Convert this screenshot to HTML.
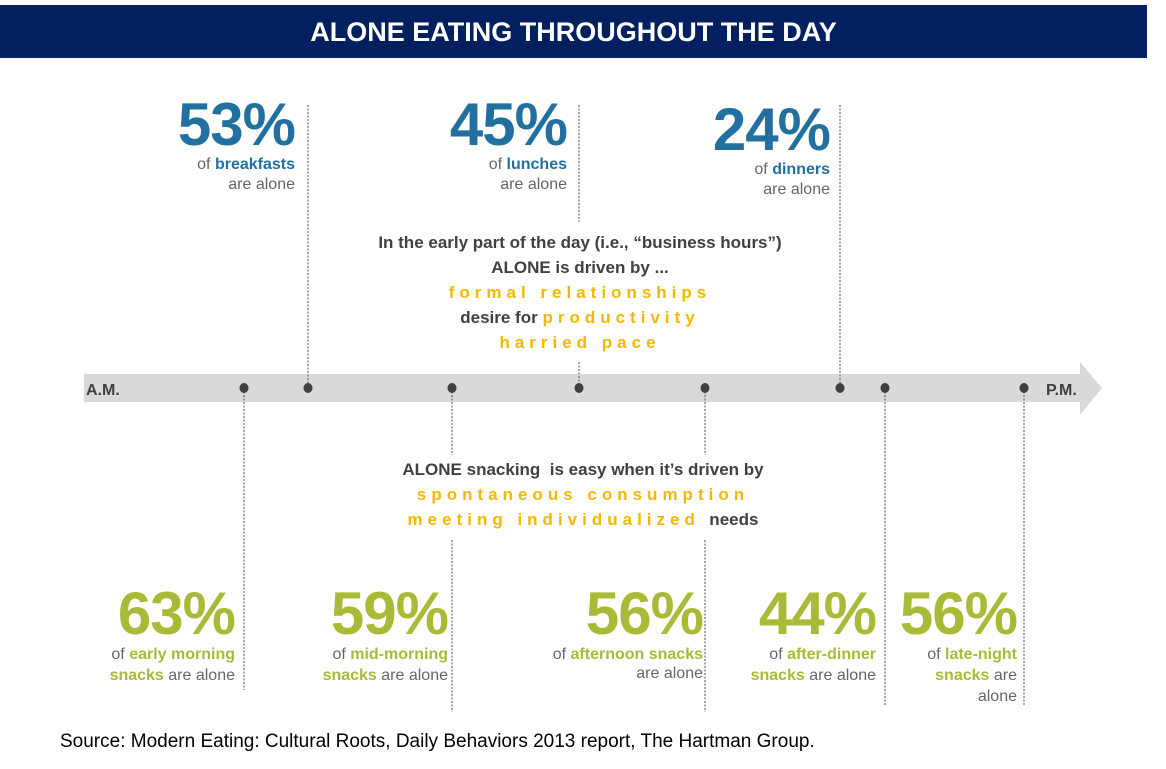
<!DOCTYPE html>
<html><head><meta charset="utf-8">
<style>
body{margin:0;width:1166px;height:769px;background:#fff;position:relative;overflow:hidden;font-family:"Liberation Sans",sans-serif;}
.abs{position:absolute;}
#title{left:0;top:5px;width:1147px;height:53px;background:#02205F;color:#fff;font-weight:bold;font-size:27px;text-align:center;line-height:54px;}
.big{font-weight:bold;font-size:60px;line-height:60px;text-align:right;letter-spacing:-1px;}
.sub{font-size:16px;line-height:20px;text-align:right;color:#666;white-space:nowrap;}
.sub b{font-weight:bold;}
.box{color:#404040;font-weight:bold;font-size:17px;text-align:center;line-height:25px;white-space:nowrap;}
.y{color:#F5B800;letter-spacing:5px;}
</style></head><body>
<div id="title" class="abs">ALONE EATING THROUGHOUT THE DAY</div>
<svg id="tl" class="abs" style="left:0;top:0" width="1166" height="769">
<polygon points="84,374 1080,374 1080,362 1102,388 1080,415 1080,402 84,402" fill="#d9d9d9"/>
<text x="86" y="395" font-family="Liberation Sans" font-weight="bold" font-size="16" fill="#404040">A.M.</text>
<text x="1046" y="395" font-family="Liberation Sans" font-weight="bold" font-size="16" fill="#404040">P.M.</text>
</svg>
<div class="abs box" style="left:355px;top:230px;width:450px">
In the early part of the day (i.e., “business hours”)<br>ALONE is driven by ...<br><span class="y">formal relationships</span><br>desire for <span class="y">productivity</span><br><span class="y">harried pace</span></div>
<div class="abs box" style="left:378px;top:457px;width:410px">
ALONE snacking &nbsp;is easy when it’s driven by<br><span class="y">spontaneous consumption</span><br><span class="y">meeting individualized</span> &nbsp;needs</div>
<div class="abs" style="left:60px;top:731px;font-size:19px;color:#000">Source: Modern Eating: Cultural Roots, Daily Behaviors 2013 report, The Hartman Group.</div>
<script>
const mealNames=["breakfasts","lunches","dinners"];
const mealValues=[53,45,24];
const snackNames=["early morning","mid-morning","afternoon","after-dinner","late-night"];
const snackValues=[63,59,56,44,56];
const mealX=[308,579,840];
const mealRight=[295,567,830];
const snackX=[244,452,705,885,1024];
const snackRight=[235,448,703,876,1017];
const svg=document.getElementById('tl');
const NS='http://www.w3.org/2000/svg';
function line(x,y1,y2){const l=document.createElementNS(NS,'line');l.setAttribute('x1',x);l.setAttribute('x2',x);l.setAttribute('y1',y1);l.setAttribute('y2',y2);l.setAttribute('stroke','#777');l.setAttribute('stroke-width','1.3');l.setAttribute('stroke-dasharray','2,1.5');


svg.appendChild(l);}
function dot(x){const c=document.createElementNS(NS,'ellipse');c.setAttribute('cx',x);c.setAttribute('cy',388);c.setAttribute('rx',4.5);c.setAttribute('ry',5);c.setAttribute('fill','#404040');


svg.appendChild(c);}
const topLines=[[105,388],[105,222],[105,388]];
mealX.forEach((x,i)=>{line(x,topLines[i][0],topLines[i][1]);if(i==1)line(x,362,388);dot(x);});
snackX.forEach((x,i)=>{if(i==1||i==2){line(x,388,455);line(x,540,712);}else line(x,388,i==0?690:705);dot(x);});
mealValues.forEach((v,i)=>{const d=document.createElement('div');d.className='abs';d.style.left=(mealRight[i]-220)+'px';d.style.top=(i==2?100:95)+'px';d.style.width='220px';


d.innerHTML='<div class="big" style="color:#22709F">'+v+'%</div><div class="sub">of <b style="color:#22709F">'+mealNames[i]+'</b></div><div class="sub">are alone</div>';document.body.appendChild(d);});
const snackLines=[
 ['of <b>early morning</b>','<b>snacks</b> are alone'],
 ['of <b>mid-morning</b>','<b>snacks</b> are alone'],
 ['of <b>afternoon snacks</b>','are alone'],
 ['of <b>after-dinner</b>','<b>snacks</b> are alone'],
 ['of <b>late-night</b>','<b>snacks</b> are','alone']];
snackValues.forEach((v,i)=>{const d=document.createElement('div');d.className='abs';d.style.left=(snackRight[i]-220)+'px';d.style.top='584px';d.style.width='220px';


let h='<div class="big" style="color:#A9BA37">'+v+'%</div>';snackLines[i].forEach((t,j)=>{h+='<div class="sub" style="line-height:'+(i==2&&j==1?18:21)+'px">'+t.replace(/<b>/g,'<b style="color:#A9BA37">')+'</div>';});d.innerHTML=h;document.body.appendChild(d);});
</script>
</body></html>
